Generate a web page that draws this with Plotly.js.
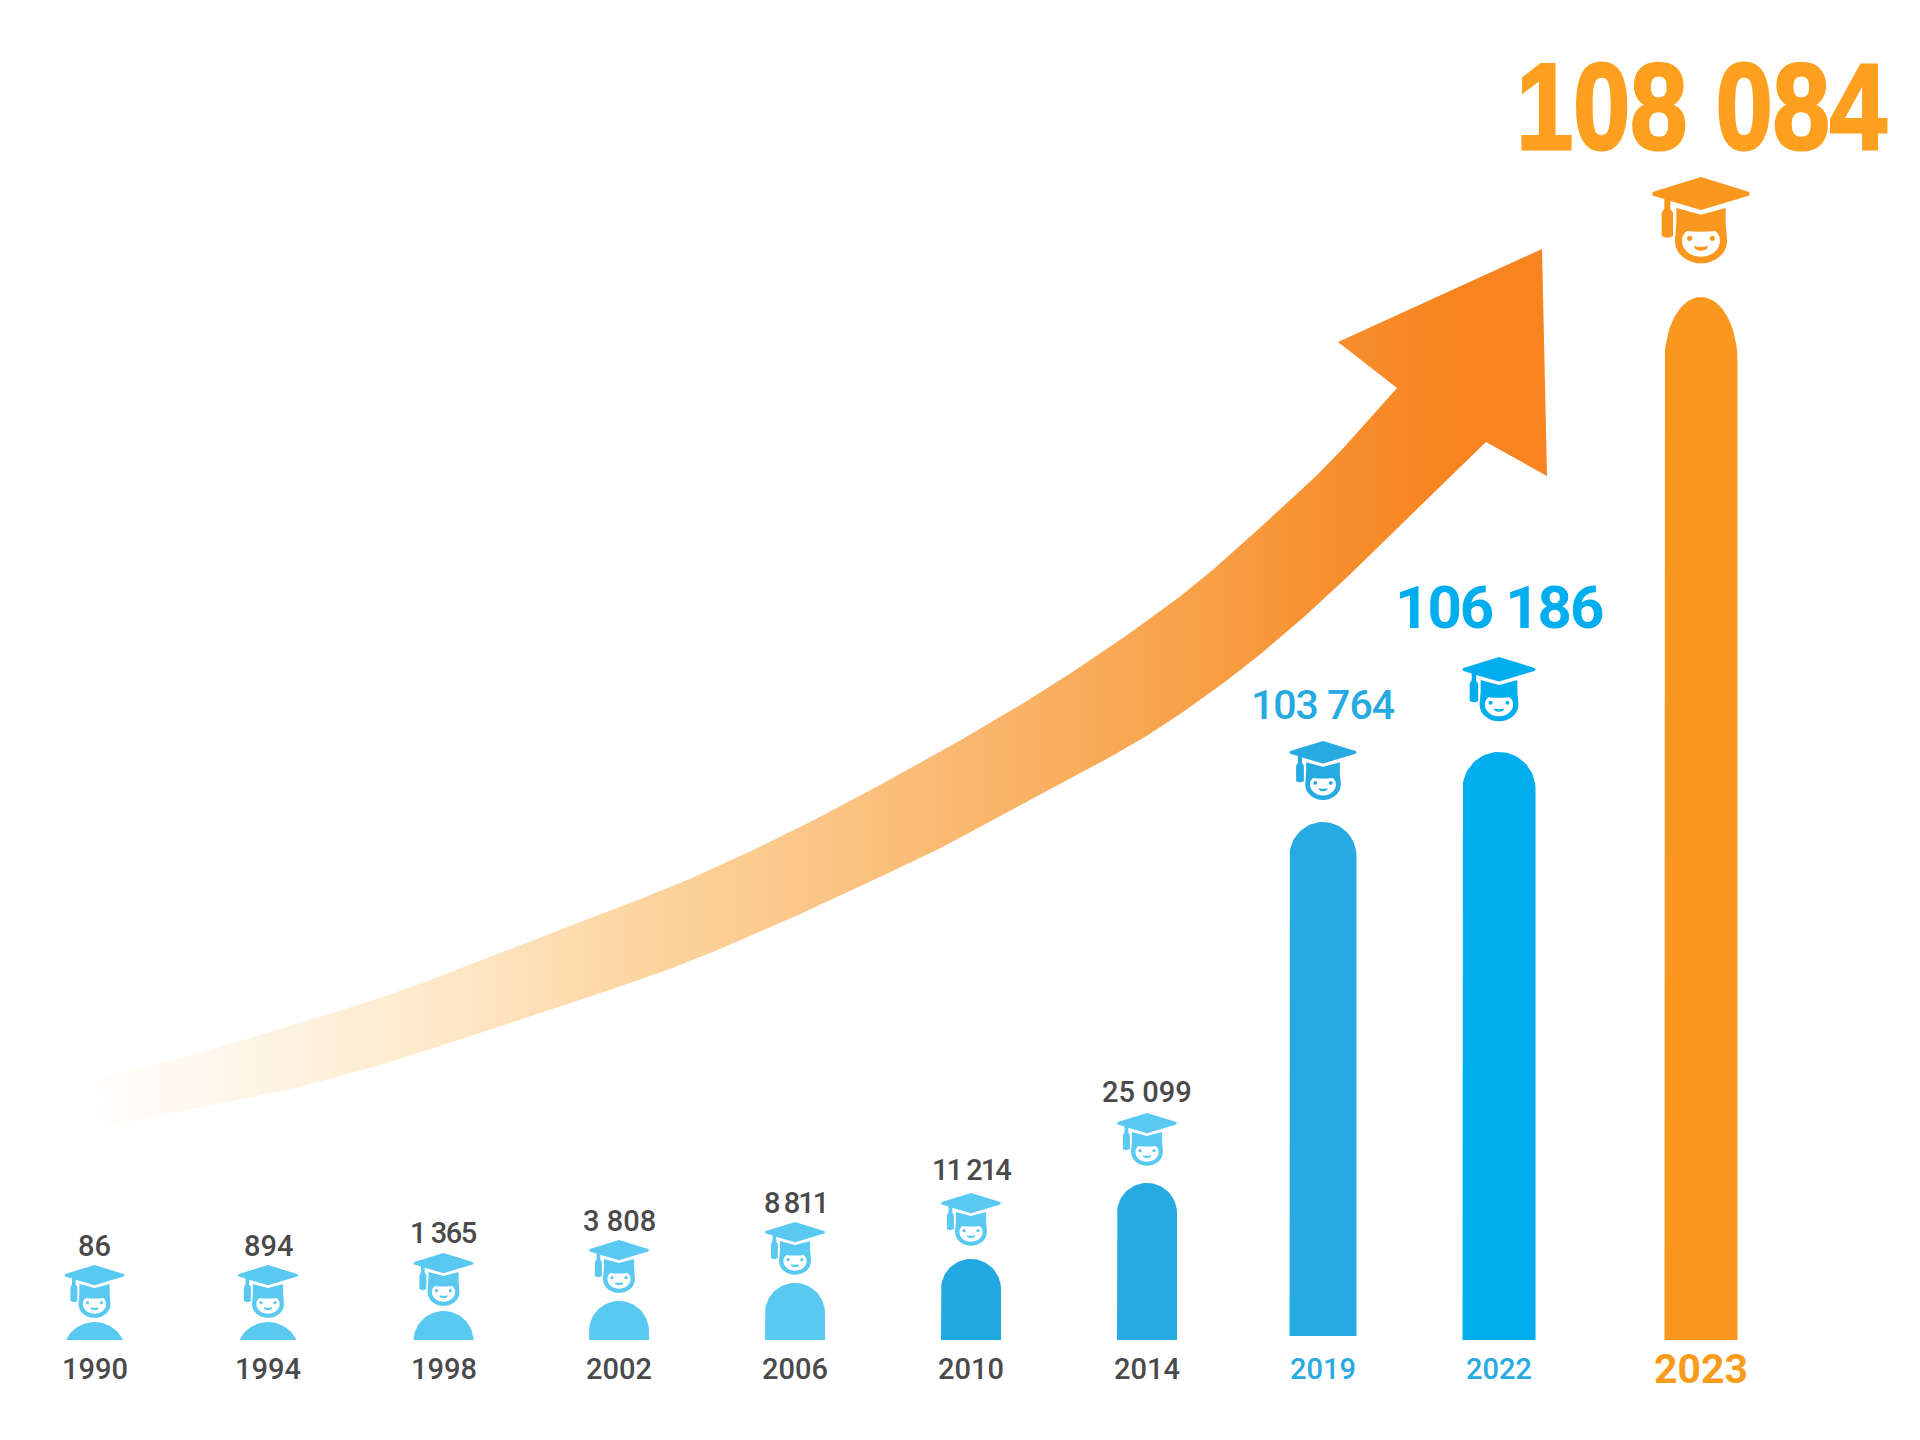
<!DOCTYPE html>
<html>
<head>
<meta charset="utf-8">
<script src="https://cdn.plot.ly/plotly-3.0.1.min.js"></script>
<style>html,body{margin:0;padding:0;background:#fff}#chart{width:1920px;height:1440px}</style>
</head>
<body>
<div id="chart"></div>
<script>
// ---- Data ----
const years        = ['1990','1994','1998','2002','2006','2010','2014','2019','2022','2023'];
const valueLabels  = ['86','894','1 365','3 808','8 811','11 214','25 099','103 764','106 186','108 084'];
// the drawing is pictorial: bar heights are not proportional to the values
const barHeights   = [18,18,29,39,57,81,157,518,588,1043];
const barBases     = [0,0,0,0,0,0,0,4,0,0];
const categoryX    = [94.5,268,443.5,619,795,971,1147,1323,1499,1701];
const barWidths    = [57,57,60,60,60,60,60,67,73,73];
const capHeights   = [18,18,29,30,30,30,30,34,37,64];
const barColors    = ['#59c9f2','#59c9f2','#59c9f2','#59c9f2','#59c9f2','#22a9e1','#27aae1','#27aae1','#00aeef','#f9971e'];
const iconColors   = ['#59c9f2','#59c9f2','#59c9f2','#59c9f2','#59c9f2','#59c9f2','#59c9f2','#27aae1','#00aeef','#f9971e'];
const iconTops     = [75,75,87,100,118,147,227,599,683,1163];
const iconWidths   = [60,60,60,60,60,60,60,67,73,98];
const valueLabelY  = [94,94,107,119,137,170,248,635,733,1233];
const valueSizes   = [29,29,29,29,29,29,29,41,60,122];
const valueTrack   = [0,0,-1.5,0,-2,-2,0,-1,-2,0];
const valueColors  = ['#4a4a4c','#4a4a4c','#4a4a4c','#4a4a4c','#4a4a4c','#4a4a4c','#4a4a4c','#27aae1','#00aeef','#fd9f1f'];
const valueWeight  = [500,500,500,500,500,500,500,500,700,700];
const yearLabelY   = -29;
const yearSizes    = [29,29,29,29,29,29,29,29,29,41];
const yearColors   = ['#4a4a4c','#4a4a4c','#4a4a4c','#4a4a4c','#4a4a4c','#4a4a4c','#4a4a4c','#27aae1','#27aae1','#f99c1d'];
const yearWeight   = [500,500,500,500,500,500,500,500,500,700];
// growth arrow outline
const arrowUpperX = [95,180,280,380,480,580,680,780,880,990,1060,1130,1197,1263,1330,1397];
const arrowUpperY = [262,282,311,342,379,418,457,503,555,617,660,707,757,815,878,952];
const arrowHeadX  = [1338,1542,1547,1486];
const arrowHeadY  = [998,1091,864,898];
const arrowLowerX = [1486,1430,1363,1297,1230,1148,1060,960,880,780,680,580,480,380,287];
const arrowLowerY = [898,844,778,717,662,605,556,502,463,417,375,340,307,275,250];
const arrowTailX  = [197,103];
const arrowTailY  = [232,212];
const arrowStopX  = [95,280,480,590,780,1000,1200,1350,1450,1547];
const arrowColors = ['#fffefd','#fef3e3','#fee5c2','#fdd9a8','#fbc98b','#f9b469','#f8a046','#f78d2c','#f7841f','#f7841f'];

const FONT = 'Roboto, "Noto Sans", sans-serif';
const yTop = 1340, yBottom = -100;

// curve drawn through the anchors
function curve(px, py){
  const xs = [], ys = [], n = px.length, steps = 12;
  for (let i=0;i<n-1;i++){
    const a = Math.max(i-1,0), b = i, c = i+1, d = Math.min(i+2,n-1);
    for (let k=0;k<steps;k++){
      const t = k/steps, t2 = t*t, t3 = t2*t;
      const f = (p0,p1,p2,p3)=>0.5*(2*p1+(p2-p0)*t+(2*p0-5*p1+4*p2-p3)*t2+(3*p1-p0-3*p2+p3)*t3);
      xs.push(f(px[a],px[b],px[c],px[d])); ys.push(f(py[a],py[b],py[c],py[d]));
    }
  }
  xs.push(px[n-1]); ys.push(py[n-1]);
  return {xs, ys};
}
const up = curve(arrowUpperX, arrowUpperY), low = curve(arrowLowerX, arrowLowerY);
const arrowX = up.xs.concat(arrowHeadX, low.xs, arrowTailX, arrowUpperX[0]);
const arrowY = up.ys.concat(arrowHeadY, low.ys, arrowTailY, arrowUpperY[0]);

function barOutline(i){
  const cx = categoryX[i], hw = barWidths[i]/2, b = barBases[i], top = barHeights[i];
  const ch = capHeights[i], xs = [], ys = [];
  const shoulder = top - ch, n = 40;
  xs.push(cx-hw); ys.push(b);
  if (ch < hw) { // flat segment of a circle
    const R = (hw*hw + ch*ch)/(2*ch), a0 = Math.asin(hw/R);
    for (let k=0;k<=n;k++){ const a = -a0 + 2*a0*k/n; xs.push(cx+R*Math.sin(a)); ys.push(top-R+R*Math.cos(a)); }
  } else {
    xs.push(cx-hw); ys.push(shoulder);
    for (let k=0;k<=n;k++){ const a = -Math.PI/2 + Math.PI*k/n; xs.push(cx+hw*Math.sin(a)); ys.push(shoulder+ch*Math.cos(a)); }
  }
  xs.push(cx+hw); ys.push(b); xs.push(cx-hw); ys.push(b);
  return {xs, ys};
}

function iconPath(i){
  const s = iconWidths[i]/294, cx = categoryX[i], t = iconTops[i];
  const P = (dx,dy) => (cx+dx*s).toFixed(2)+' '+(t-(dy-441)*s).toFixed(2);
  const circle = (dx,dy,r) => { const k=r*0.5523;
    return 'M'+P(dx-r,dy)+'C'+P(dx-r,dy-k)+' '+P(dx-k,dy-r)+' '+P(dx,dy-r)+'C'+P(dx+k,dy-r)+' '+P(dx+r,dy-k)+' '+P(dx+r,dy)+
           'C'+P(dx+r,dy+k)+' '+P(dx+k,dy+r)+' '+P(dx,dy+r)+'C'+P(dx-k,dy+r)+' '+P(dx-r,dy+k)+' '+P(dx-r,dy)+'Z'; };
  const cap = 'M'+P(0,441)+'L'+P(143,485)+'Q'+P(150,491)+' '+P(143,497)+'L'+P(0,540)+'L'+P(-92,513)+'L'+P(-92,538)+
    'Q'+P(-84,545)+' '+P(-84,552)+'L'+P(-84,618)+'Q'+P(-100,628)+' '+P(-118,618)+'L'+P(-118,560)+'Q'+P(-120,545)+' '+P(-110,536)+
    'L'+P(-110,507)+'L'+P(-143,497)+'Q'+P(-150,491)+' '+P(-143,485)+'Z';
  const head = 'M'+P(-74,534)+'L'+P(-5,553)+'Q'+P(0,555)+' '+P(5,553)+'L'+P(74,534)+'L'+P(74,580)+'L'+P(78,630)+
    'C'+P(80,672)+' '+P(40,700)+' '+P(0,700)+'C'+P(-40,700)+' '+P(-80,672)+' '+P(-78,630)+'L'+P(-74,580)+'Z';
  const face = 'M'+P(-42,603)+'Q'+P(0,608)+' '+P(42,603)+'C'+P(52,610)+' '+P(57,620)+' '+P(57,632)+'C'+P(57,660)+' '+P(30,680)+' '+P(0,680)+
    'C'+P(-30,680)+' '+P(-57,660)+' '+P(-57,632)+'C'+P(-57,620)+' '+P(-52,610)+' '+P(-42,603)+'Z';
  const smile = 'M'+P(-20,648)+'Q'+P(0,654)+' '+P(20,648)+'Q'+P(22,660)+' '+P(0,662)+'Q'+P(-22,660)+' '+P(-20,648)+'Z';
  return cap+head+face+circle(-34,625,8)+circle(34,625,8)+smile;
}

const traces = [{
  type:'scatter', mode:'lines', x:arrowX, y:arrowY,
  fill:'toself', line:{width:0,color:'rgba(0,0,0,0)'}, hoverinfo:'skip', showlegend:false, name:'growth arrow',
  fillcolor:'#f7841f',
  fillgradient:{type:'horizontal', start:arrowStopX[0], stop:arrowStopX[arrowStopX.length-1],
    colorscale:arrowStopX.map((p,k)=>[(p-arrowStopX[0])/(arrowStopX[arrowStopX.length-1]-arrowStopX[0]),arrowColors[k]])}
}];
years.forEach((yr,i)=>{
  const o = barOutline(i);
  traces.push({type:'scatter', mode:'lines', x:o.xs, y:o.ys, fill:'toself', fillcolor:barColors[i],
    line:{width:0,color:barColors[i]}, name:yr, showlegend:false, hoverinfo:'skip'});
});

const shapes = years.map((yr,i)=>({type:'path', xref:'x', yref:'y', path:iconPath(i), fillcolor:iconColors[i],
  fillrule:'evenodd', line:{width:0}, layer:'above'}));

const annotations = [];
years.forEach((yr,i)=>{
  annotations.push({x:categoryX[i], y:valueLabelY[i], xref:'x', yref:'y', showarrow:false, xanchor:'center', yanchor:'middle',
    text:valueTrack[i]?'<span style="letter-spacing:'+valueTrack[i]+'px">'+valueLabels[i]+'</span>':valueLabels[i],
    font:{family:i===9?'"Liberation Sans",sans-serif':FONT, size:valueSizes[i], color:valueColors[i], weight:valueWeight[i]}});
  annotations.push({x:categoryX[i], y:yearLabelY, xref:'x', yref:'y', showarrow:false, xanchor:'center', yanchor:'middle',
    text:yr, font:{family:FONT, size:yearSizes[i], color:yearColors[i], weight:yearWeight[i]}});
});

const layout = {
  width:1920, height:1440, margin:{l:0,r:0,t:0,b:0,pad:0},
  paper_bgcolor:'#fff', plot_bgcolor:'#fff', showlegend:false,
  xaxis:{range:[0,1920], visible:false, fixedrange:true},
  yaxis:{range:[yBottom,yTop], visible:false, fixedrange:true},
  shapes, annotations
};
Plotly.newPlot('chart', traces, layout, {displayModeBar:false, staticPlot:true}).then(()=>{
  // the headline number is set in a heavy condensed cut in the reference
  document.querySelectorAll('.annotation-text').forEach(el=>{
    if (el.textContent === valueLabels[9]) {
      el.style.transformBox = 'fill-box';
      el.style.transformOrigin = 'center';
      el.style.transform = 'scaleX(0.84)';
      el.style.stroke = valueColors[9];
      el.style.strokeWidth = '3px';
    }
  });
});
</script>
</body>
</html>
